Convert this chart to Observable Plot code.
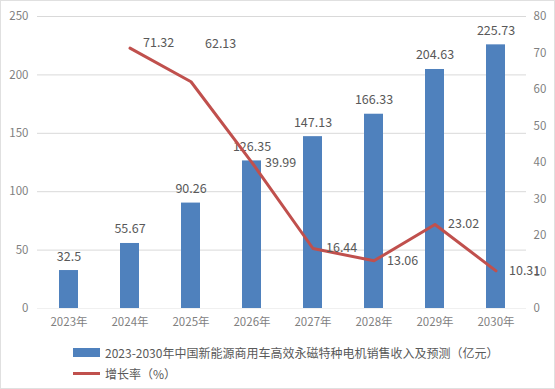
<!DOCTYPE html>
<html><head><meta charset="utf-8">
<script src="https://cdn.jsdelivr.net/npm/d3@7"></script>
<script src="https://cdn.jsdelivr.net/npm/@observablehq/plot@0.6"></script>
<style>
body{margin:0;background:#fff;font-family:"Noto Sans CJK SC","Liberation Sans",sans-serif;}
#wrap{width:553px;height:387px;border:1px solid #e0e0e0;position:relative;overflow:hidden;}
.legend{position:absolute;left:72px;top:341px;font-size:12px;color:#595959;line-height:20px;}
.row{display:flex;align-items:center;height:21px;}
.sw{width:27px;margin-right:5px;}
</style></head><body>
<div id="wrap"><div id="chart"></div>
<div class="legend">
<div class="row"><span class="sw" style="height:9px;background:#4F81BD"></span><span>2023-2030年中国新能源商用车高效永磁特种电机销售收入及预测（亿元）</span></div>
<div class="row"><span class="sw" style="height:3px;background:#C0504D"></span><span>增长率（%）</span></div>
</div></div>
<script>
const years = ["2023年","2024年","2025年","2026年","2027年","2028年","2029年","2030年"];
const revenue = [32.5,55.67,90.26,126.35,147.13,166.33,204.63,225.73];
const growth = [null,71.32,62.13,39.99,16.44,13.06,23.02,10.31];
const leftTicks = [0,50,100,150,200,250];
const rightTicks = [0,10,20,30,40,50,60,70,80];

const k = 250/80;
const bars = years.map((y,i)=>({year:y,value:revenue[i]}));
const pts = years.map((y,i)=>({year:y,g:growth[i],i})).filter(d=>d.g!=null);
const lbl = {x:"year",y:d=>d.g*k,text:d=>d.g.toFixed(2),textAnchor:"start",fill:"#595959",fontSize:12.5};

const plot = Plot.plot({
  width:553, height:335,
  marginLeft:36, marginRight:28, marginTop:15, marginBottom:28,
  style:{fontFamily:'"Noto Sans CJK SC","Liberation Sans",sans-serif',color:"#7f7f7f",fontSize:"11px"},
  x:{domain:years, paddingInner:0.69, paddingOuter:0.345, align:0.5},
  y:{domain:[0,250]},
  marks:[
    Plot.ruleY(leftTicks.filter(d=>d>0),{stroke:"#d9d9d9",strokeWidth:1}),
    Plot.ruleY([0],{stroke:"#f0f0f0"}),
    Plot.axisX({tickSize:0,tickPadding:9,label:null,fontSize:11.5,fill:"#7f7f7f"}),
    Plot.axisY({ticks:leftTicks,tickSize:0,tickPadding:9,label:null,fill:"#7f7f7f",fontSize:11.5}),
    Plot.axisY({anchor:"right",ticks:rightTicks.map(v=>v*k),tickFormat:d=>Math.round(d/k),tickSize:0,tickPadding:7,label:null,fill:"#7f7f7f",fontSize:11.5}),
    Plot.barY(bars,{x:"year",y:"value",fill:"#4F81BD"}),
    Plot.text(bars,{x:"year",y:"value",text:d=>String(d.value),dy:-14,fill:"#595959",fontSize:12.5}),
    Plot.line(pts,{x:"year",y:d=>d.g*k,stroke:"#C0504D",strokeWidth:3}),
    Plot.text(pts.filter(d=>d.i===1),{...lbl,dx:13,dy:-5}),
    Plot.text(pts.filter(d=>d.i===2),{...lbl,dx:14,dy:-38}),
    Plot.text(pts.filter(d=>d.i>2),{...lbl,dx:13,dy:0})
  ]
});
document.getElementById("chart").appendChild(plot);
</script>
</body></html>
